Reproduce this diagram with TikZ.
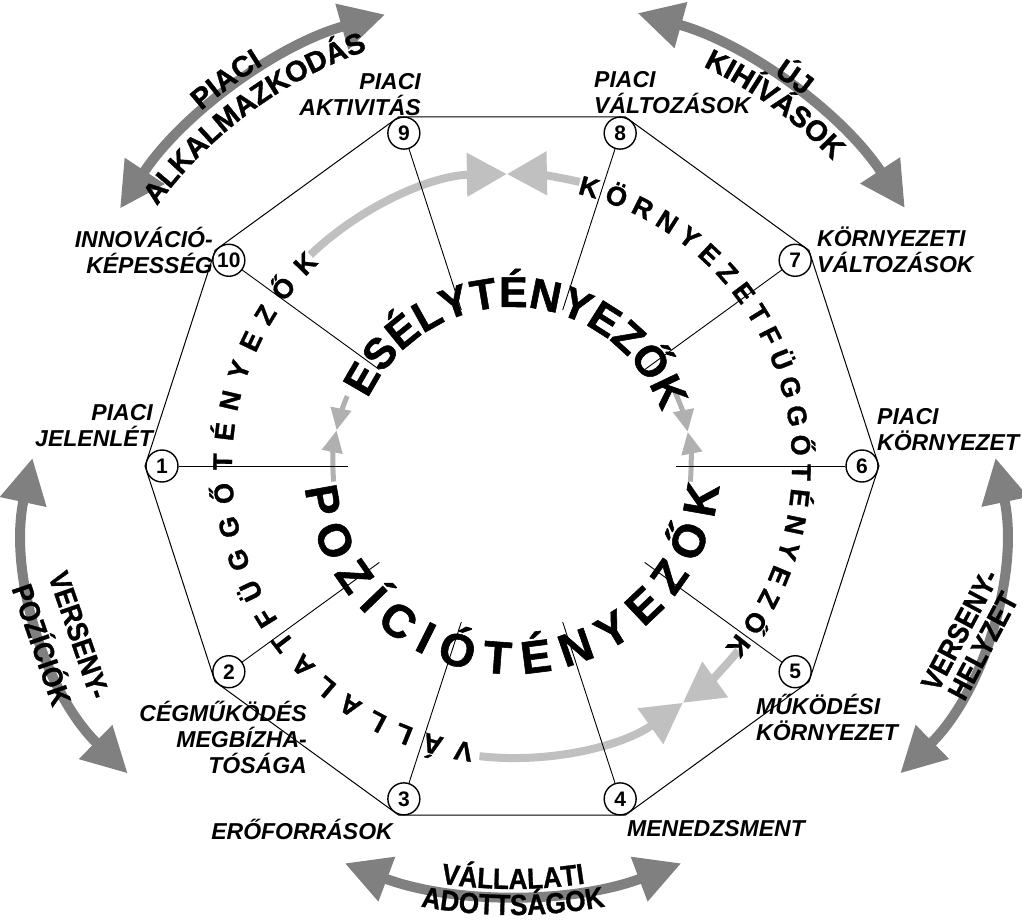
\documentclass[tikz,border=0pt]{standalone}
\usepackage{fontspec}
\setmainfont{Liberation Sans}
\newfontfamily\heavysans[FakeBold=1.2]{Liberation Sans}
\newfontfamily\semicond[FakeStretch=0.9,FakeBold=1]{Liberation Sans}
\usetikzlibrary{arrows.meta,decorations.text}
\definecolor{ringgray}{HTML}{C0C0C0}
\definecolor{innergray}{HTML}{B0B0B0}
\definecolor{outergray}{HTML}{808080}
\newcommand\fEsely{\heavysans\fontsize{43}{43}\selectfont\bfseries}
\newcommand\fPoz{\heavysans\fontsize{46}{46}\selectfont\bfseries}
\newcommand\fRing{\heavysans\fontsize{27}{27}\selectfont\bfseries}
\newcommand\fOut{\heavysans\fontsize{29}{29}\selectfont\bfseries}
\newcommand\fOutc{\semicond\fontsize{29}{29}\selectfont\bfseries}
\newcommand\fLab{\fontsize{23}{26}\selectfont\bfseries\itshape}
\newcommand\fNum{\fontsize{21}{21}\selectfont\bfseries}
\begin{document}
\begin{tikzpicture}[x=1pt,y=1pt,
  poly/.style={line width=1pt},
  spoke/.style={line width=0.9pt},
  numcirc/.style={circle,draw,line width=1.4pt,fill=white,minimum size=32pt,inner sep=0pt,font=\fNum},
  lab/.style={font=\fLab,inner sep=0pt},
  outlab/.style={font=\fOutc,inner sep=0pt},
  ringarrow/.style={ringgray,line width=8pt,-{Triangle[length=40pt,width=42pt]}},
  innerarrow/.style={innergray,line width=5pt,-{Triangle[length=22pt,width=20pt]}},
  outerarrow/.style={outergray,line width=10pt,{Triangle[length=45pt,width=45pt]}-{Triangle[length=45pt,width=45pt]}},
  curvetext/.style={decorate,decoration={text along path,text={#1},text align=center}},
  fittext/.style={decorate,decoration={text along path,text={#1},text align={fit to path}}},
]
\useasboundingbox (0,0) rectangle (1022,-921);
\coordinate (O) at (512,-466);

\begin{scope}[shift={(O)}]
  % light ring arrows
  \draw[ringarrow] (133.7:292pt) arc[start angle=133.7,end angle=91,radius=292pt];
  \draw[ringarrow] (76.6:292pt) arc[start angle=76.6,end angle=91,radius=292pt];
  \draw[ringarrow] (263.6:292pt) arc[start angle=263.6,end angle=305.8,radius=292pt];
  \draw[ringarrow] (-39.2:292pt) arc[start angle=-39.2,end angle=-54.2,radius=292pt];
  % inner small arrows
  \draw[innerarrow] (157:179pt) arc[start angle=157,end angle=168.5,radius=179pt];
  \draw[innerarrow] (185:179pt) arc[start angle=185,end angle=168.5,radius=179pt];
  \draw[innerarrow] (24.5:179pt) arc[start angle=24.5,end angle=11,radius=179pt];
  \draw[innerarrow] (-5:179pt) arc[start angle=-5,end angle=11,radius=179pt];
  % decagon
  \draw[poly] (0:367pt) \foreach \k in {1,...,9}{-- (\k*36:367pt)} -- cycle;
  % circles and spokes
  \foreach \n/\a in {1/180,2/216,3/252,4/288,5/324,6/0,7/36,8/72,9/108,10/144}{
    \coordinate (s\n) at (\a:164pt);
    \node[numcirc] (c\n) at (\a:350pt) {\n};
    \draw[spoke] (c\n) -- (s\n);
  }
  % texts along circles
  \path[fittext={|\fEsely|ESÉLYTÉNYEZŐK}] (155:159pt) arc[start angle=155,end angle=23,radius=159pt];
  \path[fittext={|\fPoz|POZÍCIÓTÉNYEZŐK}] (186:208pt) arc[start angle=186,end angle=354.5,radius=208pt];
  \path[fittext={|\fRing|KÖRNYEZETFÜGGŐTÉNYEZŐK}] (76.5:280pt) arc[start angle=76.5,end angle=-40.5,radius=280pt];
  \path[fittext={|\fRing|VÁLLALATFÜGGŐTÉNYEZŐK}] (262.2:280pt) arc[start angle=262.2,end angle=133.6,radius=280pt];
  % outer arrows top
  \draw[outerarrow] (146.7:469pt) arc[start angle=146.7,end angle=105.7,radius=469pt];
  \draw[outerarrow] (74.5:470pt) arc[start angle=74.5,end angle=33.3,radius=470pt];
  \path[curvetext={|\fOut|PIACI}] (150:472pt) arc[start angle=150,end angle=103,radius=472pt];
  \path[curvetext={|\fOut|ALKALMAZKODÁS}] (150:440pt) arc[start angle=150,end angle=103,radius=440pt];
  \path[curvetext={|\fOut|ÚJ}] (77.5:471pt) arc[start angle=77.5,end angle=30.5,radius=471pt];
  \path[curvetext={|\fOut|KIHÍVÁSOK}] (77.5:443pt) arc[start angle=77.5,end angle=30.5,radius=443pt];
\end{scope}

% bottom outer arrow
\begin{scope}[shift={(513,-418)}]
  \draw[outerarrow] (249.3:476pt) arc[start angle=249.3,end angle=290.7,radius=476pt];
  \path[curvetext={|\fOutc|VÁLLALATI}] (250:471pt) arc[start angle=250,end angle=290,radius=471pt];
  \path[curvetext={|\fOutc|ADOTTSÁGOK}] (250:497pt) arc[start angle=250,end angle=290,radius=497pt];
\end{scope}

% side outer arrows
\draw[outerarrow] (995.5,-457.9) arc[start angle=12,end angle=-45.6,radius=342pt];
\draw[outerarrow] (32.5,-458) arc[start angle=168,end angle=225.6,radius=342pt];
\node[outlab,rotate=62] (vr1) at (960,-630) {VERSENY-};
\node[outlab,rotate=62] (vr2) at (983,-646) {HELYZET};
\node[outlab,rotate=-71] (vl1) at (79,-635) {VERSENY-};
\node[outlab,rotate=-71] (vl2) at (44,-644) {POZÍCIÓK};

% vertex labels
\node[lab,align=right,anchor=east] (t9) at (421,-95) {PIACI\\AKTIVITÁS};
\node[lab,align=left,anchor=west] (t8) at (594,-93) {PIACI\\VÁLTOZÁSOK};
\node[lab,align=left,anchor=west] (t7) at (817,-250) {KÖRNYEZETI\\VÁLTOZÁSOK};
\node[lab,align=left,anchor=west] (t6) at (877,-430) {PIACI\\KÖRNYEZET};
\node[lab,align=left,anchor=west] (t5) at (756,-717) {MŰKÖDÉSI\\KÖRNYEZET};
\node[lab,anchor=west] (t4) at (627,-829) {MENEDZSMENT};
\node[lab,anchor=east] (t3) at (393,-829) {ERŐFORRÁSOK};
\node[lab,align=right,anchor=east] (t2) at (307,-737) {CÉGMŰKÖDÉS\\MEGBÍZHA-\\TÓSÁGA};
\node[lab,align=right,anchor=east] (t1) at (153,-426) {PIACI\\JELENLÉT};
\node[lab,align=right,anchor=east] (t10) at (213,-250) {INNOVÁCIÓ-\\KÉPESSÉG};
\end{tikzpicture}
\end{document}
